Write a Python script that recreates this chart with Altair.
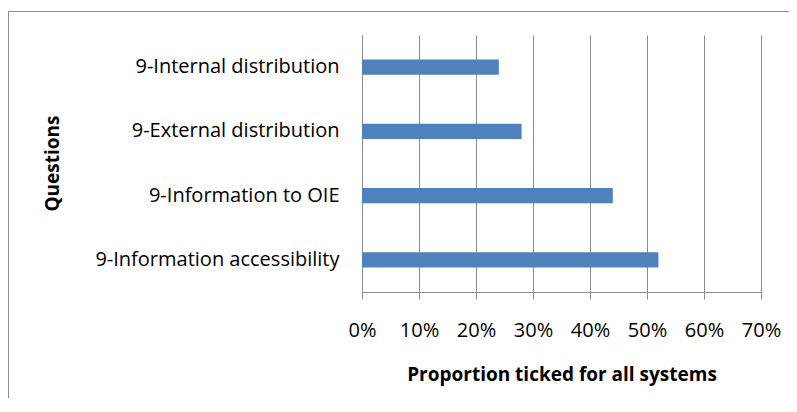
import altair as alt
import pandas as pd

questions = [
    "9-Internal distribution",
    "9-External distribution",
    "9-Information to OIE",
    "9-Information accessibility",
]
proportions = [0.24, 0.28, 0.44, 0.52]
x_ticks = [0, 0.1, 0.2, 0.3, 0.4, 0.5, 0.6, 0.7]

df = pd.DataFrame({"question": questions, "proportion": proportions})

FONT = "Open Sans"
GRAY = "#8c8c8c"

bars = alt.Chart(df).mark_bar(color="#4F81BD").encode(
    x=alt.X(
        "proportion:Q",
        scale=alt.Scale(domain=[0, 0.7], nice=False),
        axis=alt.Axis(
            values=x_ticks,
            format=".0%",
            title="Proportion ticked for all systems",
            grid=True,
            gridColor=GRAY,
            gridWidth=1,
            domainColor=GRAY,
            tickColor=GRAY,
            tickSize=7,
            labelFont=FONT,
            labelFontSize=20,
            labelColor="#000000",
            labelPadding=21,
            labelOverlap=False,
            labelFlush=False,
            labelBound=False,
            titleFont=FONT,
            titleFontSize=19,
            titleFontWeight="bold",
            titleColor="#000000",
            titlePadding=25,
        ),
    ),
    y=alt.Y(
        "question:N",
        sort=questions,
        scale=alt.Scale(paddingInner=0.766, paddingOuter=0.383),
        axis=alt.Axis(
            title="Questions",
            ticks=False,
            domainColor=GRAY,
            labelFont=FONT,
            labelFontSize=20,
            labelLimit=400,
            labelColor="#000000",
            labelPadding=23,
            titleFont=FONT,
            titleFontSize=19,
            titleFontWeight="bold",
            titleColor="#000000",
            titleX=-310,
            titleY=128,
            titleAngle=-90,
            titleBaseline="middle",
        ),
    ),
)

border = alt.Chart(df).mark_rect(
    fill="transparent", stroke="#8e8e8e", strokeWidth=1
).encode(
    x=alt.value(-353.5),
    x2=alt.value(1200),
    y=alt.value(-23.5),
    y2=alt.value(900),
)

chart = alt.layer(border, bars).properties(
    width=399,
    height=257,
    padding={"left": 354, "top": 27, "right": 28, "bottom": 106},
    autosize=alt.AutoSizeParams(type="none"),
).configure_view(stroke="transparent")

chart.save("out.html", embed_options={"renderer": "svg", "actions": False})
